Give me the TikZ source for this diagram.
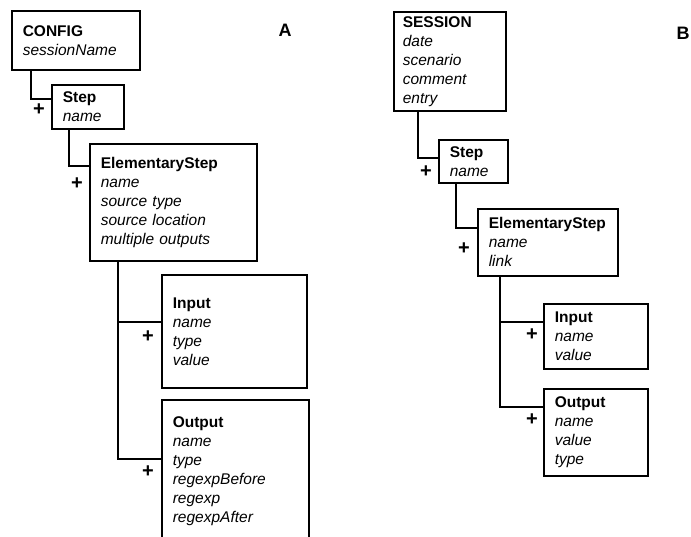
\documentclass[tikz,border=0pt]{standalone}
\usepackage{fontspec}
\setmainfont{Liberation Sans}
\usetikzlibrary{calc}
\begin{document}
\begin{tikzpicture}[x=1pt,y=-1pt,
	entity/.style={draw=black, line width=1.6pt, anchor=north west, align=left,
		inner xsep=11pt, inner ysep=0pt, font=\fontsize{15.5}{19}\selectfont},
	link/.style={black, line width=1.6pt},
	mult/.style={font=\fontsize{20}{20}\selectfont\bfseries, inner sep=0pt},
	panel/.style={font=\fontsize{18}{18}\selectfont\bfseries, inner sep=0pt}]
	\useasboundingbox (0,0) rectangle (691,537);
	% Schema A
	\node[entity, text width=106pt, minimum height=59pt] (config) at (11,10)
		{\textbf{CONFIG}\\ \textit{sessionName}};
	\node[entity, text width=50pt, minimum height=44pt] (stepA) at (51,84)
		{\textbf{Step}\\ \textit{name}};
	\node[entity, text width=145pt, minimum height=117pt] (esA) at (89,143)
		{\textbf{ElementaryStep}\\ \textit{name}\\ \textit{source type}\\ \textit{source location}\\ \textit{multiple outputs}};
	\node[entity, text width=123pt, minimum height=113pt] (inputA) at (161,274)
		{\textbf{Input}\\ \textit{name}\\ \textit{type}\\ \textit{value}};
	\node[entity, text width=125pt, minimum height=143pt] (outputA) at (161,399)
		{\textbf{Output}\\ \textit{name}\\ \textit{type}\\ \textit{regexpBefore}\\ \textit{regexp}\\ \textit{regexpAfter}};
	\draw[link] ($(config.south west)+(20,0)$) |- ($(stepA.north west)+(0,15)$);
	\draw[link] ($(stepA.south west)+(18,0)$) |- ($(esA.north west)+(0,23)$);
	\draw[link] ($(esA.south west)+(29,0)$) |- ($(inputA.north west)+(0,48)$);
	\draw[link] ($(esA.south west)+(29,0)$) |- ($(outputA.north west)+(0,60)$);
	\node[mult] (pStepA) at ($(stepA.north west)+(-12,26)$) {+};
	\node[mult] (pEsA) at ($(esA.north west)+(-12,41)$) {+};
	\node[mult] (pInputA) at ($(inputA.north west)+(-13,63)$) {+};
	\node[mult] (pOutputA) at ($(outputA.north west)+(-13,73)$) {+};
	\node[panel] (labelA) at (285,30) {A};
	% Schema B
	\node[entity, text width=94pt, minimum height=99pt, inner xsep=9pt] (session) at (393,11)
		{\textbf{SESSION}\\ \textit{date}\\ \textit{scenario}\\ \textit{comment}\\ \textit{entry}};
	\node[entity, text width=47pt, minimum height=43pt] (stepB) at (438,139)
		{\textbf{Step}\\ \textit{name}};
	\node[entity, text width=118pt, minimum height=67pt] (esB) at (477,208)
		{\textbf{ElementaryStep}\\ \textit{name}\\ \textit{link}};
	\node[entity, text width=82pt, minimum height=65pt] (inputB) at (543,303)
		{\textbf{Input}\\ \textit{name}\\ \textit{value}};
	\node[entity, text width=82pt, minimum height=87pt] (outputB) at (543,388)
		{\textbf{Output}\\ \textit{name}\\ \textit{value}\\ \textit{type}};
	\draw[link] ($(session.south west)+(25,0)$) |- ($(stepB.north west)+(0,19)$);
	\draw[link] ($(stepB.south west)+(18,0)$) |- ($(esB.north west)+(0,20)$);
	\draw[link] ($(esB.south west)+(23,0)$) |- ($(inputB.north west)+(0,19)$);
	\draw[link] ($(esB.south west)+(23,0)$) |- ($(outputB.north west)+(0,19)$);
	\node[mult] (pStepB) at ($(stepB.north west)+(-12,33)$) {+};
	\node[mult] (pEsB) at ($(esB.north west)+(-13,41)$) {+};
	\node[mult] (pInputB) at ($(inputB.north west)+(-11,32)$) {+};
	\node[mult] (pOutputB) at ($(outputB.north west)+(-11,32)$) {+};
	\node[panel] (labelB) at (683,33) {B};
\end{tikzpicture}
\end{document}
